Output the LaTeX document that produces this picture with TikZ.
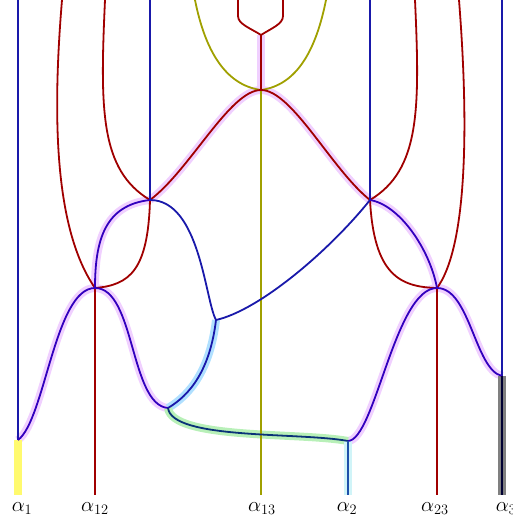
\documentclass[tikz,border=0pt]{standalone}
\usepackage{xcolor}
\usepackage{amssymb}
\usepackage{tikz}

\definecolor{wblue}{RGB}{25,25,170}
\definecolor{wviolet}{RGB}{50,0,190}
\definecolor{wred}{RGB}{160,0,0}
\definecolor{wolive}{RGB}{160,160,0}
\definecolor{wnavy}{RGB}{10,50,120}
\definecolor{wsteel}{RGB}{30,80,170}
\definecolor{hpurple}{RGB}{240,208,255}
\definecolor{hcyan}{RGB}{176,224,255}
\definecolor{hgreen}{RGB}{184,240,184}
\definecolor{hpale}{RGB}{208,244,248}
\definecolor{hyellow}{RGB}{255,250,110}

\begin{document}
\begin{tikzpicture}[x=1pt,y=-1pt,
  wire/.style={line width=1.8pt},
  glow/.style={line width=8pt},
  lab/.style={font=\huge,anchor=base}]
\useasboundingbox (0,0) rectangle (513,519);
\coordinate (y) at (261,35);
\coordinate (t) at (261,90);
\coordinate (l) at (150,200);
\coordinate (r) at (370,200);
\coordinate (ll) at (95,288);
\coordinate (rr) at (437,288);
\coordinate (m) at (216,320);
\coordinate (b) at (168,408);
\coordinate (d) at (348,441);
\coordinate (a1) at (18,440);
\coordinate (a3) at (502,376);
\node[lab] (n1) at (22,511) {$\alpha_1$};
\node[lab] (n12) at (95,511) {$\alpha_{12}$};
\node[lab] (n13) at (262,511) {$\alpha_{13}$};
\node[lab] (n2) at (347,511) {$\alpha_2$};
\node[lab] (n23) at (435,511) {$\alpha_{23}$};
\node[lab] (n3) at (506,511) {$\alpha_3$};
\coordinate (e1) at (18,495);
\coordinate (e12) at (95,495);
\coordinate (e13) at (261,495);
\coordinate (e2) at (348,495);
\coordinate (e23) at (437,495);
\coordinate (e3) at (502,495);
\draw[glow,hpurple] (y) -- (t);
\draw[glow,hpurple] (l) .. controls (190,170) and (230,90) .. (t) .. controls (292,90) and (332,170) .. (r);
\draw[glow,hpurple] (l) .. controls (105,205) and (95,240) .. (ll);
\draw[glow,hpurple] (r) .. controls (400,205) and (430,250) .. (rr);
\draw[glow,hpurple] (a1) .. controls (45,420) and (55,288) .. (ll) .. controls (135,288) and (130,405) .. (b);
\draw[glow,hpurple] (d) .. controls (375,440) and (395,288) .. (rr) .. controls (470,288) and (475,370) .. (a3);
\draw[glow,hcyan] (m) .. controls (210,370) and (190,395) .. (b);
\draw[glow,hgreen] (b) .. controls (172,440) and (300,432) .. (d);
\draw[glow,hpale] (d) -- (e2);
\draw[glow,hyellow] (a1) -- (e1);
\draw[line width=8pt,gray] (a3) -- (e3);
\draw[wire,wolive] (195,0) .. controls (205,50) and (225,85) .. (t);
\draw[wire,wolive] (326,0) .. controls (316,50) and (297,85) .. (t);
\draw[wire,wolive] (t) -- (e13);
\draw[wire,wred] (238,0) -- (238,16) .. controls (238,24) and (250,28) .. (y);
\draw[wire,wred] (283,0) -- (283,16) .. controls (283,24) and (272,28) .. (y);
\draw[wire,wred] (y) -- (t);
\draw[wire,wred] (l) .. controls (190,170) and (230,90) .. (t) .. controls (292,90) and (332,170) .. (r);
\draw[wire,wred] (105,0) .. controls (100,110) and (100,170) .. (l);
\draw[wire,wred] (415,0) .. controls (420,110) and (420,170) .. (r);
\draw[wire,wred] (62,0) .. controls (52,120) and (55,230) .. (ll);
\draw[wire,wred] (459,0) .. controls (470,140) and (465,250) .. (rr);
\draw[wire,wred] (l) .. controls (148,270) and (130,285) .. (ll);
\draw[wire,wred] (r) .. controls (374,275) and (400,287) .. (rr);
\draw[wire,wred] (ll) -- (e12);
\draw[wire,wred] (rr) -- (e23);
\draw[wire,wblue] (18,0) -- (a1);
\draw[wire,wblue] (150,0) -- (l);
\draw[wire,wblue] (370,0) -- (r);
\draw[wire,wblue] (502,0) -- (a3);
\draw[wire,wblue] (l) .. controls (200,200) and (205,300) .. (m);
\draw[wire,wblue] (r) .. controls (330,250) and (260,310) .. (m);
\draw[wire,wviolet] (l) .. controls (105,205) and (95,240) .. (ll);
\draw[wire,wviolet] (r) .. controls (400,205) and (430,250) .. (rr);
\draw[wire,wviolet] (a1) .. controls (45,420) and (55,288) .. (ll) .. controls (135,288) and (130,405) .. (b);
\draw[wire,wviolet] (d) .. controls (375,440) and (395,288) .. (rr) .. controls (470,288) and (475,370) .. (a3);
\draw[wire,wblue] (m) .. controls (210,370) and (190,395) .. (b);
\draw[wire,wnavy] (b) .. controls (172,440) and (300,432) .. (d);
\draw[wire,wsteel] (d) -- (e2);
\draw[wire,black!80!blue] (a3) -- (e3);
\end{tikzpicture}
\end{document}
